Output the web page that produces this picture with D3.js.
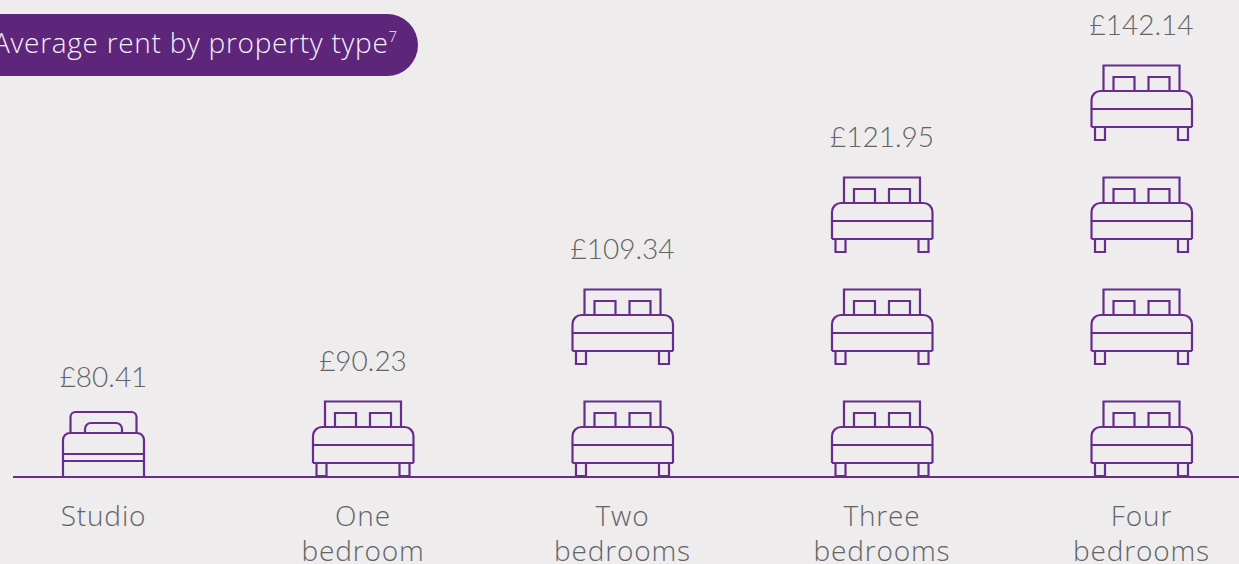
<!DOCTYPE html>
<html><head><meta charset="utf-8">
<script src="https://cdn.jsdelivr.net/npm/d3@7"></script>
<style>
html,body{margin:0;padding:0;background:#eeeced;overflow:hidden}
svg{display:block}
text{font-weight:300}
</style></head><body>
<svg id="c" width="1239" height="564"></svg>
<script>
const categories = ["Studio","One bedroom","Two bedrooms","Three bedrooms","Four bedrooms"];
const categoryLines = [["Studio"],["One","bedroom"],["Two","bedrooms"],["Three","bedrooms"],["Four","bedrooms"]];
const rentValues = [80.41,90.23,109.34,121.95,142.14];
const bedCounts = [1,1,2,3,4];
const bedKinds = ["studio","double","double","double","double"];
const titleText = "Average rent by property type";
const titleNote = "7";

const pillColor="#5e267b", purple="#662d8c", grey="#636466";
const W=1239,H=564,baseline=477;
const labelFont="'Open Sans',sans-serif", valueFont="Lato,sans-serif";
const svg=d3.select("#c");

const x=d3.scalePoint().domain(categories).range([103.5,1141.5]);
const yStack=d3.scaleLinear().domain([0,4]).range([baseline,baseline-448]);

// title pill
const pill=d3.path();
pill.moveTo(-20,14);pill.lineTo(387,14);pill.arc(387,45,31,-Math.PI/2,Math.PI/2);pill.lineTo(-20,76);pill.closePath();
svg.append("path").attr("d",pill.toString()).attr("fill",pillColor);
const t=svg.append("text").attr("x",-7).attr("y",53).attr("fill","#f4eff6").attr("font-size",28).attr("letter-spacing",0.71).attr("font-family",labelFont);
t.append("tspan").text(titleText);
t.append("tspan").text(titleNote).attr("font-size",15).attr("dy",-11).attr("letter-spacing",0);

// axis line
svg.append("line").attr("x1",13).attr("x2",W).attr("y1",baseline).attr("y2",baseline).attr("stroke",purple).attr("stroke-width",2);

function rr(p,x0,yTop,x1,yBottom,r){ // open-bottom rounded rectangle
  p.moveTo(x0,yBottom);p.lineTo(x0,yTop+r);p.arcTo(x0,yTop,x0+r,yTop,r);p.lineTo(x1-r,yTop);p.arcTo(x1,yTop,x1,yTop+r,r);p.lineTo(x1,yBottom);
}
function doubleBed(){
  const p=d3.path();
  p.moveTo(-38,-50);p.lineTo(-38,-75.5);p.lineTo(38,-75.5);p.lineTo(38,-50);
  p.moveTo(-28,-50);p.lineTo(-28,-64);p.lineTo(-7,-64);p.lineTo(-7,-50);
  p.moveTo(7,-50);p.lineTo(7,-64);p.lineTo(28,-64);p.lineTo(28,-50);
  rr(p,-50,-50,50.5,-14,9);p.moveTo(-50,-14);p.lineTo(50.5,-14);
  p.moveTo(-50,-32);p.lineTo(50.5,-32);
  p.rect(-46.5,-14,10,13);p.rect(36.5,-14,10,13);
  return p.toString();
}
function studioBed(){
  const q=d3.path();
  rr(q,-33,-66,33,-45,5);
  rr(q,-18.5,-55,18.5,-45,6);
  rr(q,-40.5,-45,40.5,0,7);
  q.moveTo(-40.5,-24);q.lineTo(40.5,-24);
  q.moveTo(-40.5,-17);q.lineTo(40.5,-17);
  return q.toString();
}
const shapes={double:doubleBed(),studio:studioBed()};

const groups=svg.selectAll("g.cat").data(categories).join("g").attr("class","cat")
  .attr("transform",d=>`translate(${x(d)},0)`);

groups.each(function(d,i){
  const g=d3.select(this);
  g.selectAll("path.bed").data(d3.range(bedCounts[i])).join("path").attr("class","bed")
    .attr("transform",k=>`translate(0,${yStack(k)+(bedKinds[i]==="studio"?1:0)})`)
    .attr("d",shapes[bedKinds[i]])
    .attr("fill","none").attr("stroke",purple).attr("stroke-width",2.2);
  const top=yStack(bedCounts[i]);
  g.append("text").attr("text-anchor","middle").attr("y",bedKinds[i]==="studio"?top+22:top+5.5)
    .attr("fill",grey).attr("font-size",28).attr("font-family",valueFont)
    .text("£"+rentValues[i].toFixed(2));
  const label=g.append("text").attr("text-anchor","middle").attr("fill",grey).attr("font-size",28).attr("letter-spacing",0.85).attr("font-family",labelFont);
  categoryLines[i].forEach((s,j)=>label.append("tspan").attr("x",0).attr("y",526+j*35).text(s));
});
</script>
</body></html>
